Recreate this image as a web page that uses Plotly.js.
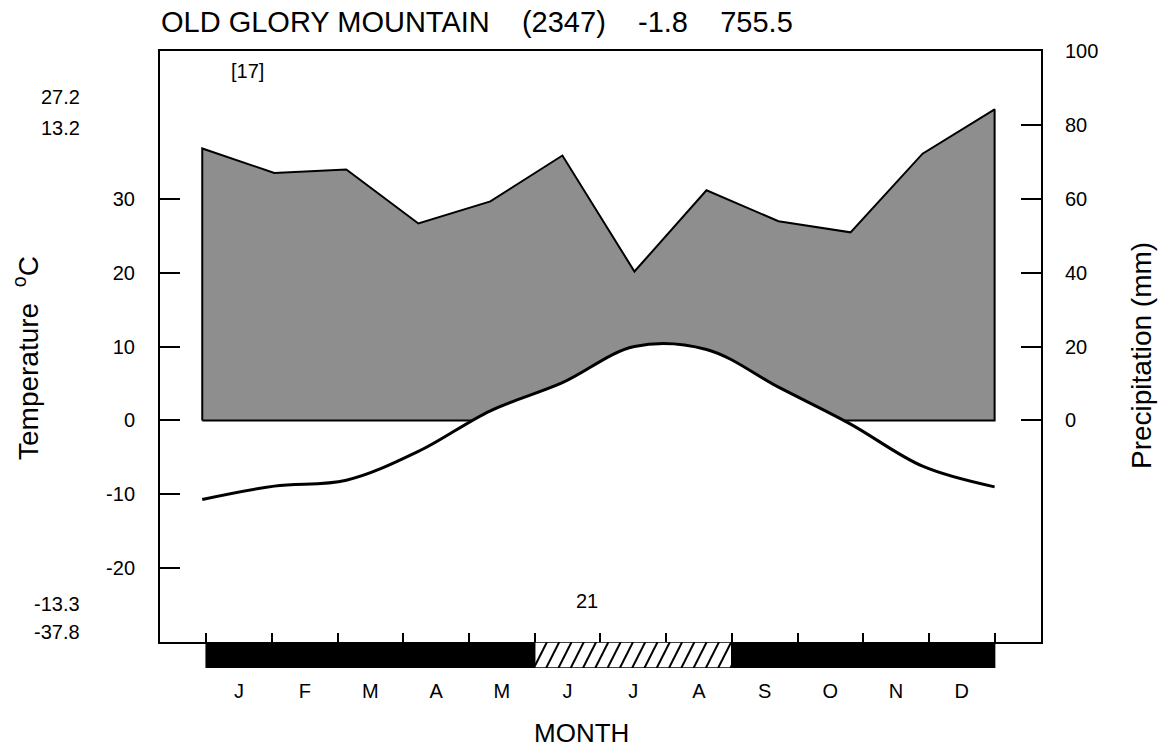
<!DOCTYPE html>
<html>
<head>
<meta charset="utf-8">
<script src="https://cdn.plot.ly/plotly-3.0.1.min.js"></script>
<style>html,body{margin:0;padding:0;background:#fff;}#chart{width:1167px;height:749px;}</style>
</head>
<body>
<div id="chart"></div>
<script>
// ---- data ----
const months = ['J','F','M','A','M','J','J','A','S','O','N','D'];
const precipitation = [73.6, 67.0, 67.9, 53.3, 59.3, 71.7, 40.3, 62.3, 53.9, 50.9, 72.2, 84.2]; // mm
const temperature = [-10.7, -8.9, -8.1, -4.2, 1.3, 5.1, 10.0, 9.6, 4.5, -0.5, -6.2, -9.0];  // degC
const frost = [2, 2, 2, 2, 2, 1, 1, 1, 2, 2, 2, 2]; // 2 = frost certain, 1 = frost probable
const tempTicks = [-20, -10, 0, 10, 20, 30];
const precipTicks = [0, 20, 40, 60, 80, 100];
const station = 'OLD GLORY MOUNTAIN';
const elevation = '(2347)';
const meanTemp = '-1.8';
const annualPrecip = '755.5';
const sideTop = ['27.2', '13.2'];
const sideBottom = ['-13.3', '-37.8'];
const yearsNote = '[17]';
const frostNote = '21';

// ---- layout helpers ----
const FONT = 'Liberation Sans, Arial, Helvetica, sans-serif';
const n = months.length;
const xStart = -0.06, xEnd = 12.0;
const xs = months.map((_, i) => xStart + i * (xEnd - xStart) / (n - 1));
const mids = months.map((_, i) => i + 0.5);
const bounds = Array.from({length: n + 1}, (_, i) => i);
const XR = [-0.703, 12.706];
const bandFrac = 26 / 617;
const shift = 0.3;
const nb = '\u00A0';

// contiguous runs of the frost code -> band segments
const runs = [];
frost.forEach((f, i) => {
  const last = runs[runs.length - 1];
  if (last && last.code === f) last.end = i + 1;
  else runs.push({code: f, start: i, end: i + 1});
});

// diagonal hatching for "probable frost" runs (band subplot y range is 0..1)
const hatchStep = 0.187, hatchLean = 0.2;
const hx = [], hy = [];
runs.filter(r => r.code === 1).forEach(r => {
  for (let xb = r.start - hatchLean; xb < r.end; xb += hatchStep) {
    const t0 = Math.max(0, (r.start - xb) / hatchLean);
    const t1 = Math.min(1, (r.end - xb) / hatchLean);
    if (t1 <= t0) continue;
    hx.push(xb + hatchLean * t0, xb + hatchLean * t1, null);
    hy.push(t0, t1, null);
  }
});

const precipPoly = {
  x: [xs[0]].concat(xs, [xs[n - 1], xs[0]]),
  y: [0].concat(precipitation, [0, 0]),
  xaxis: 'x', yaxis: 'y',
  mode: 'lines', fill: 'toself', fillcolor: '#8e8e8e',
  line: {color: '#000', width: 2},
  hoverinfo: 'skip', showlegend: false
};
const whiteUnder = {
  x: xs, y: temperature, xaxis: 'x', yaxis: 'y2',
  mode: 'lines', fill: 'tozeroy', fillcolor: '#ffffff',
  line: {color: '#ffffff', width: 3, shape: 'spline'},
  hoverinfo: 'skip', showlegend: false
};
const tempLine = {
  x: xs, y: temperature, xaxis: 'x', yaxis: 'y3',
  mode: 'lines', line: {color: '#000', width: 3, shape: 'spline'},
  showlegend: false
};
const band = {
  type: 'bar',
  x: runs.map(r => (r.start + r.end) / 2),
  y: runs.map(() => 1),
  width: runs.map(r => r.end - r.start),
  xaxis: 'x2', yaxis: 'y4',
  marker: {color: runs.map(r => r.code === 2 ? '#000' : '#fff'), line: {color: '#000', width: 1.5}},
  hoverinfo: 'skip', showlegend: false
};
const hatch = {
  x: hx, y: hy, xaxis: 'x2', yaxis: 'y4', mode: 'lines',
  line: {color: '#000', width: 2}, connectgaps: false,
  hoverinfo: 'skip', showlegend: false
};

const axisFont = {family: FONT, size: 20, color: '#000'};

const layout = {
  width: 1167, height: 749,
  margin: {l: 160, r: 126, t: 51, b: 81},
  paper_bgcolor: '#fff', plot_bgcolor: 'rgba(0,0,0,0)',
  font: {family: FONT, color: '#000'},
  title: {
    text: station + nb.repeat(4) + elevation + nb.repeat(4) + meanTemp + nb.repeat(4) + annualPrecip,
    font: {family: FONT, size: 29, color: '#000'}, x: 161 / 1167, xref: 'container', xanchor: 'left',
    y: 1 - 22 / 749, yref: 'container', yanchor: 'middle'
  },
  xaxis: {
    domain: [0, 1], anchor: 'y', range: XR, tickmode: 'array', tickvals: bounds,
    ticks: 'inside', ticklen: 9, tickwidth: 2, tickcolor: '#000', showticklabels: false,
    showline: true, linewidth: 2, linecolor: '#000', mirror: true,
    showgrid: false, zeroline: false
  },
  xaxis2: {
    domain: [0, 1], anchor: 'y4', range: XR, tickmode: 'array', tickvals: mids, ticktext: months,
    ticks: '', showline: false, showgrid: false, zeroline: false,
    tickfont: {family: FONT, size: 20, color: '#000'}, ticklabelstandoff: 9
  },
  yaxis: {
    domain: [bandFrac, 1], anchor: 'x', side: 'right', range: [-60, 100],
    tickmode: 'array', tickvals: precipTicks, ticktext: precipTicks.map(String),
    ticks: 'inside', ticklen: 20, tickwidth: 2, tickcolor: '#000',
    showline: true, linewidth: 2, linecolor: '#000', mirror: true,
    showgrid: false, zeroline: false, tickfont: axisFont, ticklabelstandoff: 18
  },
  yaxis2: {
    overlaying: 'y', anchor: 'x', range: [-30 + shift, 50 + shift], visible: false
  },
  yaxis3: {
    overlaying: 'y', anchor: 'x', side: 'left', range: [-30, 50],
    tickmode: 'array', tickvals: tempTicks, ticktext: tempTicks.map(String),
    ticks: 'inside', ticklen: 20, tickwidth: 2, tickcolor: '#000',
    showline: false, showgrid: false, zeroline: false, tickfont: axisFont, ticklabelstandoff: 24
  },
  yaxis4: {domain: [0, bandFrac], anchor: 'x2', range: [0, 1], visible: false, fixedrange: true},
  annotations: [
    {text: sideTop[0], x: -0.0885, y: 0.926, xanchor: 'right'},
    {text: sideTop[1], x: -0.0885, y: 0.875, xanchor: 'right'},
    {text: sideBottom[0], x: -0.0885, y: 0.104, xanchor: 'right'},
    {text: sideBottom[1], x: -0.0885, y: 0.058, xanchor: 'right'},
    {text: yearsNote, x: 0.0988, y: 0.9676, xanchor: 'center'},
    {text: frostNote, x: 0.4847, y: 0.1086, xanchor: 'center'},
    {text: 'MONTH', x: (581 - 160) / 881, y: (668 - 733) / 617, xanchor: 'center', font: {family: FONT, size: 26, color: '#000'}},
    {text: 'Temperature ' + nb + '<sup>o</sup>C', x: (26 - 160) / 881, y: (668 - 358) / 617, xanchor: 'center',
     textangle: -90, font: {family: FONT, size: 28, color: '#000'}},
    {text: 'Precipitation (mm)', x: (1141 - 160) / 881, y: (668 - 356) / 617, xanchor: 'center',
     textangle: -90, font: {family: FONT, size: 28, color: '#000'}}
  ].map(a => Object.assign({xref: 'paper', yref: 'paper', yanchor: 'middle', showarrow: false,
    font: {family: FONT, size: 20, color: '#000'}}, a))
};

Plotly.newPlot('chart', [precipPoly, whiteUnder, tempLine, band, hatch], layout, {displayModeBar: false, staticPlot: true});
</script>
</body>
</html>
